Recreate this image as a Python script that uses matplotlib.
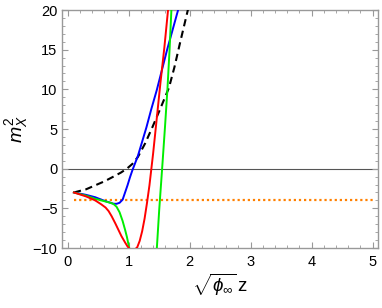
import matplotlib
matplotlib.use("Agg")
import matplotlib.pyplot as plt
from matplotlib.ticker import MultipleLocator

plt.rcParams['font.family'] = ['Liberation Sans', 'DejaVu Sans']
plt.rcParams['mathtext.fontset'] = 'custom'
plt.rcParams['mathtext.rm'] = 'Liberation Sans'
plt.rcParams['mathtext.it'] = 'Liberation Sans:italic'
plt.rcParams['mathtext.bf'] = 'Liberation Sans:bold'

# data
red_x = [0.1, 0.3, 0.45, 0.55, 0.62, 0.67, 0.72, 0.78, 0.83, 0.88, 0.94, 0.98, 1.02, 1.06, 1.1, 1.14, 1.18, 1.22, 1.26, 1.3, 1.34, 1.37, 1.4, 1.45, 1.52, 1.585, 1.645, 1.7]
red_y = [-3.0, -3.5, -4.0, -4.5, -4.9, -5.35, -6.0, -6.9, -7.7, -8.5, -9.3, -9.8, -10.15, -10.3, -10.2, -9.9, -9.1, -7.9, -6.3, -4.3, -2.1, -0.1, 1.9, 5.6, 10.8, 15.3, 20.0, 24.0]

blue_x = [0.1, 0.3, 0.45, 0.6, 0.7, 0.75, 0.8, 0.85, 0.9, 0.94, 0.98, 1.02, 1.06, 1.1, 1.15, 1.22, 1.29, 1.37, 1.46, 1.63, 1.81, 1.9]
blue_y = [-3.0, -3.3, -3.6, -4.05, -4.3, -4.42, -4.43, -4.3, -3.9, -3.0, -2.1, -1.1, -0.2, 0.6, 1.6, 3.4, 5.2, 7.5, 9.9, 15.0, 20.0, 23.0]

green_x = [0.1, 0.3, 0.45, 0.6, 0.7, 0.75, 0.8, 0.85, 0.9, 0.94, 0.97, 1.0, 1.02, 1.05, 1.2, 1.4, 1.44, 1.46, 1.5, 1.548, 1.595, 1.635, 1.67, 1.7, 1.72]
green_y = [-3.0, -3.4, -3.8, -4.1, -4.3, -4.45, -4.8, -5.5, -6.6, -7.7, -8.6, -9.7, -10.5, -12.5, -15.0, -13.0, -11.5, -10.2, -5.2, 0.0, 5.26, 10.0, 15.0, 20.0, 23.0]

dash_x = [0.1, 0.3, 0.45, 0.6, 0.75, 0.87, 0.97, 1.06, 1.15, 1.27, 1.39, 1.52, 1.66, 1.75, 1.84, 1.97, 2.05]
dash_y = [-3.0, -2.6, -2.1, -1.6, -1.0, -0.5, 0.0, 0.6, 1.47, 3.2, 5.26, 7.6, 10.2, 12.8, 15.8, 20.0, 23.0]

orange_x = [0.1, 5.0]
orange_y = [-4.0, -4.0]

xticks = [0, 1, 2, 3, 4, 5]
yticks = [-10, -5, 0, 5, 10, 15, 20]

fig = plt.figure(figsize=(3.82, 3.08), dpi=100)
ax = fig.add_axes([0.1615, 0.1948, 0.828, 0.7727])

ax.axhline(0, color='#555555', lw=0.8, zorder=1)
ax.plot(orange_x, orange_y, color='#FF8000', lw=1.6, linestyle=(0, (1, 1.3)), zorder=2)
ax.plot(dash_x, dash_y, color='black', lw=1.5, linestyle=(0, (3.5, 2.2)), zorder=3)
ax.plot(blue_x, blue_y, color='#0000FF', lw=1.4, zorder=4)
ax.plot(green_x, green_y, color='#00EE00', lw=1.4, zorder=4)
ax.plot(red_x, red_y, color='#FF0000', lw=1.4, zorder=5)

ax.set_xlim(-0.1, 5.09)
ax.set_ylim(-10, 20)
ax.set_xticks(xticks)
ax.set_yticks(yticks)
ax.set_yticklabels(['\u221210', '\u22125', '0', '5', '10', '15', '20'])
ax.xaxis.set_minor_locator(MultipleLocator(0.2))
ax.yaxis.set_minor_locator(MultipleLocator(1))
ax.tick_params(which='both', direction='in', top=True, right=True, color='#999999', labelsize=10.5)
ax.tick_params(which='major', length=4, width=0.8)
ax.tick_params(which='minor', length=2.2, width=0.6)
ax.tick_params(axis='x', pad=5)
ax.tick_params(axis='y', pad=3)
for s in ax.spines.values():
    s.set_color('#999999')
    s.set_linewidth(1.0)

ax.set_xlabel(r'$\sqrt{\phi_{\infty}}\,\mathrm{z}$', fontsize=13.5, labelpad=2)
ax.set_ylabel(r'$m_X^2$', fontsize=14, labelpad=2)

fig.savefig('out.png', dpi=100)
